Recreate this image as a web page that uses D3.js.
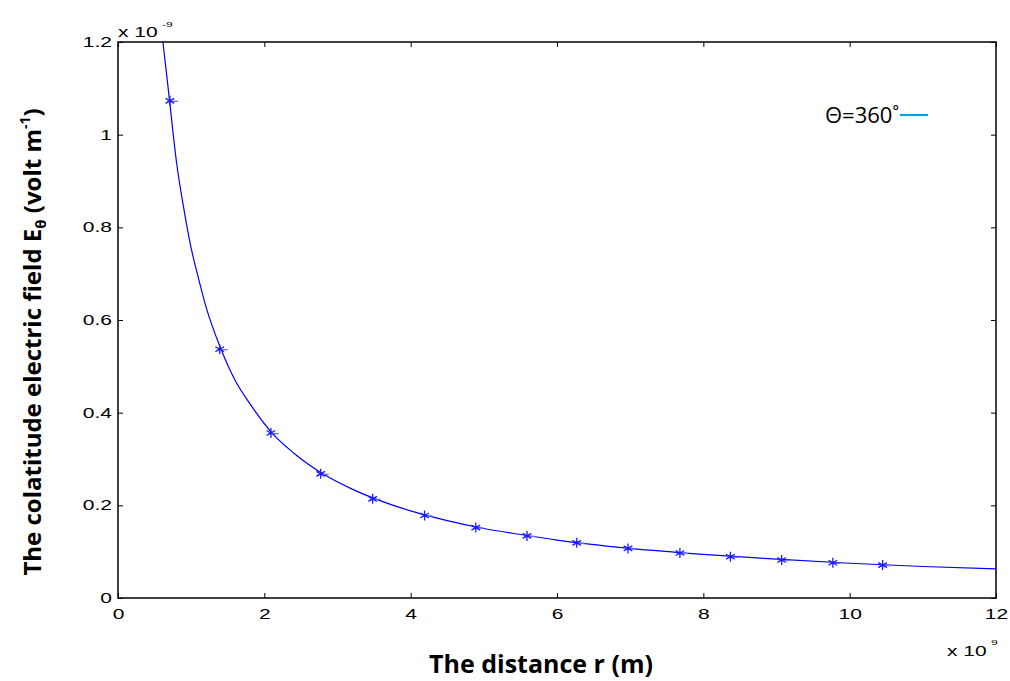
<!DOCTYPE html>
<html><head><meta charset="utf-8">
<script src="https://cdn.jsdelivr.net/npm/d3@7"></script>
<style>body{margin:0;background:#fff}</style>
</head><body>
<svg id="c" width="1010" height="681"></svg>
<script>
const xTicks = [0, 2, 4, 6, 8, 10, 12];
const yTicks = [0, 0.2, 0.4, 0.6, 0.8, 1, 1.2];
const lineR = [0.55,0.6,0.65,0.7,0.8,0.9,1.0,1.1,1.2,1.4,1.6,1.8,2.1,2.4,2.8,3.2,3.5,4.0,4.5,5.0,5.5,6.0,7.0,8.0,9.0,10.0,11.0,12.0];
const lineE = [1.30,1.22,1.15,1.08,0.94,0.84,0.755,0.69,0.63,0.54,0.47,0.42,0.357,0.313,0.268,0.235,0.215,0.188,0.167,0.150,0.137,0.125,0.107,0.094,0.084,0.075,0.068,0.063];
const markR = [0.71,1.39,2.09,2.77,3.48,4.19,4.89,5.59,6.27,6.97,7.68,8.37,9.07,9.77,10.45];
const markE = [1.073,0.537,0.356,0.268,0.214,0.178,0.152,0.134,0.119,0.107,0.097,0.089,0.082,0.076,0.071];
const legendLabel = "Θ=360˚";

const svg = d3.select("#c");
const L=118, R=996, T=42, B=598;
const x = d3.scaleLinear().domain([0,12]).range([L,R]);
const y = d3.scaleLinear().domain([0,1.2]).range([B,T]);
const tickFont = "'Liberation Sans', Arial, sans-serif";
const SX = 1.5;

svg.append("defs").append("clipPath").attr("id","clip")
  .append("rect").attr("x",L).attr("y",T).attr("width",R-L).attr("height",B-T);
const glow = svg.select("defs").append("filter").attr("id","glow").attr("x","-50%").attr("y","-200%").attr("width","200%").attr("height","500%");
glow.append("feGaussianBlur").attr("stdDeviation",1.6);

const ax = (g, axis) => {
  g.call(axis);
  g.select(".domain").remove();
  g.selectAll("line").attr("stroke","#000").attr("stroke-width",1);
  g.selectAll("text").attr("font-family",tickFont).attr("font-size",14).attr("fill","#000");
};
svg.append("g").attr("transform",`translate(0,${B})`)
  .call(g=>{ax(g, d3.axisBottom(x).tickValues(xTicks).tickFormat(d3.format("d")).tickSizeInner(-5).tickPadding(11));
    g.selectAll("text").attr("transform",`scale(${SX},1)`);});
svg.append("g").attr("transform",`translate(0,${T})`)
  .call(g=>{ax(g, d3.axisTop(x).tickValues(xTicks).tickSizeInner(-5)); g.selectAll("text").remove();});
svg.append("g").attr("transform",`translate(${L},0)`)
  .call(g=>{ax(g, d3.axisLeft(y).tickValues(yTicks).tickFormat(d=>String(d)).tickSizeInner(-5).tickPadding(6));
    g.selectAll("text").attr("transform",`scale(${SX},1)`).attr("x",-6/SX);});
svg.append("g").attr("transform",`translate(${R},0)`)
  .call(g=>{ax(g, d3.axisRight(y).tickValues(yTicks).tickSizeInner(-5)); g.selectAll("text").remove();});

svg.append("rect").attr("x",L).attr("y",T).attr("width",R-L).attr("height",B-T)
  .attr("fill","none").attr("stroke","#000").attr("stroke-width",1.5);

// curve
const lineData = lineR.map((r,i)=>[r,lineE[i]]);
svg.append("path").datum(lineData).attr("clip-path","url(#clip)")
  .attr("d", d3.line().x(d=>x(d[0])).y(d=>y(d[1])).curve(d3.curveMonotoneX))
  .attr("fill","none").attr("stroke","#0000ff").attr("stroke-width",1.2);

// markers
const mk = svg.append("g");
markR.forEach((r,i)=>{
  const cx=x(r), cy=y(markE[i]);
  mk.append("line").attr("x1",cx-3).attr("x2",cx+8).attr("y1",cy+0.5).attr("y2",cy+0.5)
    .attr("stroke","#7070ff").attr("stroke-width",1.3);
  mk.append("path").attr("transform",`translate(${cx},${cy})`)
    .attr("d", d3.symbol().type(d3.symbolAsterisk).size(70)())
    .attr("fill","none").attr("stroke","#1a1aff").attr("stroke-width",1.3);
});

// exponent labels
const expo = (tx, ty) => {
  svg.append("text").attr("transform",`translate(${tx},${ty}) scale(${SX},1)`)
    .attr("font-family",tickFont).attr("font-size",14).text("x 10");
};
expo(118,37);
svg.append("text").attr("transform",`translate(162,27) scale(${SX},1)`).attr("font-family",tickFont).attr("font-size",8).text("-9");
expo(947,656);
svg.append("text").attr("transform",`translate(991,645) scale(${SX},1)`).attr("font-family",tickFont).attr("font-size",8).text("9");

// legend
svg.append("text").attr("x",825).attr("y",123).attr("font-family","'Open Sans', 'Noto Sans', sans-serif").attr("font-size",22).text(legendLabel);
svg.append("line").attr("x1",899).attr("x2",929).attr("y1",115).attr("y2",115)
  .attr("stroke","#7fd0ff").attr("stroke-width",6).attr("filter","url(#glow)");
svg.append("line").attr("x1",900).attr("x2",928).attr("y1",115).attr("y2",115)
  .attr("stroke","#00a2e8").attr("stroke-width",2.2);

// axis titles
const tf = "'Open Sans', 'Noto Sans', sans-serif";
svg.append("text").attr("x",541).attr("y",673).attr("text-anchor","middle")
  .attr("font-family",tf).attr("font-weight","bold").attr("font-size",25).text("The distance r (m)");
const yt = svg.append("text").attr("transform","translate(41,342) rotate(-90)").attr("text-anchor","middle")
  .attr("font-family",tf).attr("font-weight","bold").attr("font-size",24);
yt.append("tspan").text("The colatitude electric field E");
yt.append("tspan").attr("font-size",15).attr("dy",5).text("θ");
yt.append("tspan").attr("dy",-5).text(" (volt m");
yt.append("tspan").attr("font-size",14).attr("dy",-11).text("-1");
yt.append("tspan").attr("dy",11).text(")");
</script>
</body></html>
